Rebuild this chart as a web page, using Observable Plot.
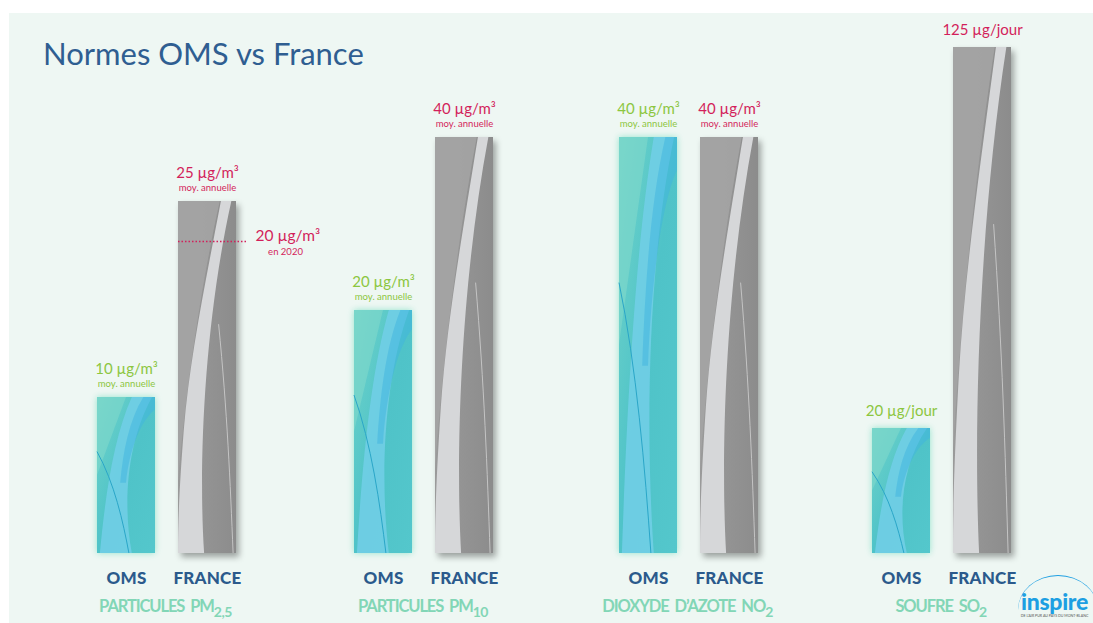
<!DOCTYPE html>
<html><head><meta charset="utf-8">
<script src="https://cdn.jsdelivr.net/npm/d3@7"></script>
<script src="https://cdn.jsdelivr.net/npm/@observablehq/plot@0.6"></script>
<style>
html,body{margin:0;padding:0;background:#fff;width:1093px;height:623px;overflow:hidden;font-family:Lato,"Open Sans",sans-serif;position:relative}
#panel{position:absolute;left:9px;top:13px;right:0;bottom:0;background:#eef7f3}
#title{position:absolute;left:43px;top:38px;font-size:31px;line-height:31px;color:#2f5e91;white-space:nowrap}
.grp{position:absolute;top:0;width:258px;height:623px}
.grp svg{position:absolute;left:0;top:0;overflow:visible}
.cap{position:absolute;left:0;width:258px;top:598px;text-align:center;font-size:16.5px;font-weight:700;line-height:17px;color:#82d6b6;letter-spacing:-1.1px;word-spacing:3px;white-space:nowrap}
.cap span{font-size:14px;position:relative;top:5px;letter-spacing:-0.5px}
[aria-label="x-axis tick label"] text{fill:#2b5a8c;font-weight:900;font-size:17px;letter-spacing:0.2px}
#logo{position:absolute;left:1016px;top:590px;width:77px;text-align:center}
#logo .word{font-size:23px;font-weight:900;color:#1d9fe2;line-height:23px;letter-spacing:-0.3px}
#logo .tag{font-size:3.6px;color:#555;white-space:nowrap;line-height:5px}
#arc{position:absolute;left:1018px;top:575px;width:80px;height:34px;border-top:1.5px solid #1d9fe2;border-radius:50% 50% 0 0 / 100% 100% 0 0}
</style></head>
<body>
<div id="panel"></div>
<div id="title">Normes OMS vs France</div>
<div id="charts"></div>
<div id="arc"></div>
<div id="logo"><div class="word">inspire</div><div class="tag">DE L'AIR PUR AU PAYS DU MONT-BLANC</div></div>
<svg width="0" height="0" style="position:absolute">
<defs>
<linearGradient id="omsGrad" x1="0" y1="0" x2="1" y2="1">
<stop offset="0" stop-color="#6fd3c9"/><stop offset="0.5" stop-color="#4fc3c8"/><stop offset="1" stop-color="#54c7cc"/>
</linearGradient>
<linearGradient id="frGrad" x1="0" y1="0" x2="1" y2="0">
<stop offset="0" stop-color="#9a9a9a"/><stop offset="1" stop-color="#8c8c8c"/>
</linearGradient>
</defs>
</svg>
<script>
// ---- data ----
const series = ["OMS", "FRANCE"];
const pollutants = ["PM2,5", "PM10", "NO2", "SO2"];
const omsValues = [10, 20, 40, 20];
const franceValues = [25, 40, 40, 125];
const units = ["µg/m³", "µg/m³", "µg/m³", "µg/jour"];
const periods = ["moy. annuelle", "moy. annuelle", "moy. annuelle", ""];
const groupNames = ["PARTICULES PM", "PARTICULES PM", "DIOXYDE D’AZOTE NO", "SOUFRE SO"];
const groupSubs = ["2,5", "10", "2", "2"];
const target2020 = [{pollutant: "PM2,5", series: "FRANCE", value: 20, label: "20 µg/m³", note: "en 2020"}];

// ---- layout (infographic: each pair has its own, non-proportional vertical scale) ----
const yKnots = [[0, 10, 20, 25], [0, 20, 40], [0, 40], [0, 20, 125]];
const yHeights = [[0, 156, 312, 352], [0, 243, 416], [0, 416], [0, 125, 506]];
const baseY = 553, maxH = 506;
const groupCenters = [165.5, 423, 687.5, 941];
const plotW = 258;

const GREEN = "#8cc63f", RED = "#d31f5b";

const shapes = {
  oms: [
    {d: "M0,0 L0.5,0 C0.3,0.2 0.1,0.4 0,0.5 Z", fill: "#80d9cc", op: 0.6},
    {d: "M0.6,0 C0.3,0.25 0.15,0.6 0.05,1 L0.6,1 C0.45,0.7 0.5,0.3 0.95,0 Z", fill: "#72cfe8", op: 0.85},
    {d: "M0.8,0 C0.55,0.15 0.45,0.35 0.4,0.55 L0.5,0.55 C0.55,0.35 0.75,0.15 1,0.08 L1,0 Z", fill: "#3fb3e0", op: 0.5},
    {d: "M0,0.35 C0.3,0.55 0.45,0.8 0.55,1", stroke: "#2aa6c8"}
  ],
  fr: [
    {d: "M0,0 L0.72,0 C0.45,0.2 0.15,0.5 0,0.8 Z", fill: "#a4a4a4", op: 0.9},
    {d: "M0.74,0 C0.45,0.25 0.2,0.45 0.1,0.65 C0.03,0.8 0,0.9 0,1 L0.45,1 C0.35,0.75 0.45,0.35 0.92,0 Z", fill: "#d6d7d9", op: 1},
    {d: "M0.7,0.35 C0.85,0.6 0.9,0.8 0.95,1", stroke: "#c4c4c4"}
  ]
};
const NS = "http://www.w3.org/2000/svg";
function decorate(svg) {
  svg.querySelectorAll('g[aria-label="bar"]').forEach(g => {
    const fill = g.getAttribute("fill") || "";
    const kind = fill.includes("oms") ? "oms" : "fr";
    g.style.filter = kind === "fr" ? "drop-shadow(3px 4px 3px rgba(0,0,0,0.35))" : "drop-shadow(0px 0px 3px rgba(110,220,190,0.7))";
    const deco = document.createElementNS(NS, "g");
    if (g.getAttribute("transform")) deco.setAttribute("transform", g.getAttribute("transform"));
    g.querySelectorAll("rect").forEach(r => {
      const x = +r.getAttribute("x"), y = +r.getAttribute("y"), w = +r.getAttribute("width"), h = +r.getAttribute("height");
      const inner = document.createElementNS(NS, "g");
      inner.setAttribute("transform", `translate(${x},${y}) scale(${w},${h})`);
      shapes[kind].forEach(s => {
        const p = document.createElementNS(NS, "path");
        p.setAttribute("d", s.d);
        if (s.stroke) {
          p.setAttribute("fill", "none"); p.setAttribute("stroke", s.stroke);
          p.setAttribute("stroke-width", 1); p.setAttribute("vector-effect", "non-scaling-stroke");
        } else { p.setAttribute("fill", s.fill); p.setAttribute("fill-opacity", s.op); }
        inner.appendChild(p);
      });
      deco.appendChild(inner);
    });
    g.after(deco);
  });
}

const charts = document.getElementById("charts");
pollutants.forEach((pol, i) => {
  const rows = [
    {pollutant: pol, series: "OMS", value: omsValues[i], unit: units[i], period: periods[i]},
    {pollutant: pol, series: "FRANCE", value: franceValues[i], unit: units[i], period: periods[i]}
  ];
  const hasPeriod = periods[i] !== "";
  const mainDy = hasPeriod ? -28 : -17;
  const targets = target2020.filter(t => t.pollutant === pol);
  const lab = d => `${d.value} ${d.unit}`;
  const piece = d3.scaleLinear().domain(yKnots[i]).range(yHeights[i]);
  const svg = Plot.plot({
    width: plotW, height: 600,
    marginLeft: 59.5, marginRight: 59.5, marginTop: 0, marginBottom: 47,
    style: {background: "transparent", fontFamily: "Lato, sans-serif", overflow: "visible"},
    x: {domain: series, paddingInner: 0.284, paddingOuter: 0},
    y: {transform: piece, domain: [0, maxH], range: [baseY, baseY - maxH], axis: null},
    marks: [
      Plot.barY(rows.filter(d => d.series === "OMS"), {x: "series", y: "value", fill: "url(#omsGrad)"}),
      Plot.barY(rows.filter(d => d.series === "FRANCE"), {x: "series", y: "value", fill: "url(#frGrad)"}),
      Plot.axisX({tickSize: 0, tickPadding: 18, fontSize: 17, fontWeight: "bold", label: null}),
      Plot.text(rows.filter(d => d.series === "OMS"), {x: "series", y: "value", text: lab, dy: mainDy, fill: GREEN, fontSize: 15}),
      Plot.text(rows.filter(d => d.series === "FRANCE"), {x: "series", y: "value", text: lab, dy: mainDy, fill: RED, fontSize: 15}),
      hasPeriod ? Plot.text(rows.filter(d => d.series === "OMS"), {x: "series", y: "value", text: "period", dy: -13.5, fill: GREEN, fontSize: 9.5}) : null,
      hasPeriod ? Plot.text(rows.filter(d => d.series === "FRANCE"), {x: "series", y: "value", text: "period", dy: -13.5, fill: RED, fontSize: 9.5}) : null,
      Plot.tickY(targets, {x: "series", y: "value", stroke: RED, strokeWidth: 1.3, strokeDasharray: "1.5,2", insetRight: -12}),
      Plot.text(targets, {x: "series", y: "value", text: "label", textAnchor: "start", dx: 48, dy: -5.5, fill: RED, fontSize: 15.5}),
      Plot.text(targets, {x: "series", y: "value", text: "note", dx: 78, dy: 10.5, fill: RED, fontSize: 9.5})
    ]
  });
  decorate(svg);
  const div = document.createElement("div");
  div.className = "grp";
  div.style.left = (groupCenters[i] - plotW / 2) + "px";
  div.appendChild(svg);
  const cap = document.createElement("div");
  cap.className = "cap";
  cap.append(groupNames[i]);
  const sub = document.createElement("span");
  sub.textContent = groupSubs[i];
  cap.appendChild(sub);
  div.appendChild(cap);
  charts.appendChild(div);
});
</script>
</body></html>
